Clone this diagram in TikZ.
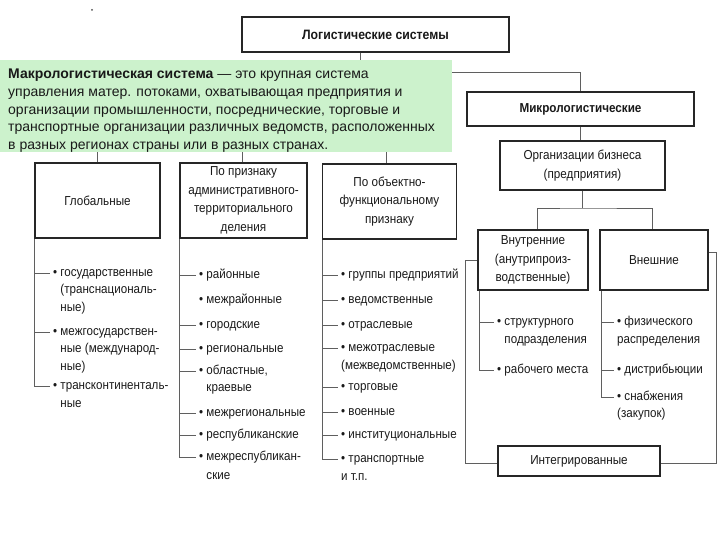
\documentclass[tikz,border=0pt]{standalone}
\usepackage{fontspec}
\setmainfont{Liberation Sans}
\newfontfamily\nar[FakeStretch=0.9]{Liberation Sans}
\definecolor{greenbg}{RGB}{204,242,204}
\definecolor{ln}{RGB}{95,95,95}
\definecolor{txt}{RGB}{25,25,25}
\begin{document}
\begin{tikzpicture}[x=1pt,y=-1pt,
 box/.style={draw=black!85, line width=1.3pt, fill=white, inner sep=0pt, align=center, text=txt, font=\nar\fontsize{13}{18.6}\selectfont},
 conn/.style={draw=ln, line width=0.8pt},
 it/.style={anchor=west, inner sep=0pt, text height=8.5pt, text depth=2.5pt, text=txt, font=\nar\fontsize{12.9}{15}\selectfont},
]
\useasboundingbox (0,0) rectangle (720,540);
\fill[black!70] (92,10) circle (1);

% boxes
\node[box, minimum width=267, minimum height=35] (logist) at (375.5,34.5) {\fontsize{13.6}{16}\selectfont\bfseries Логистические системы};
\node[box, minimum width=227, minimum height=34] (micro) at (580.5,109) {\bfseries Микрологистические};
\node[box, minimum width=165, minimum height=49] (org) at (582.5,165.5) {Организации бизнеса\\(предприятия)};
\node[box, minimum width=110, minimum height=60] (vnutr) at (533,260) {Внутренние\\(анутрипроиз-\\водственные)};
\node[box, minimum width=108, minimum height=60] (vnesh) at (654,260) {Внешние};
\node[box, minimum width=162, minimum height=30] (integr) at (579,461) {Интегрированные};
\node[box, minimum width=125, minimum height=75] (glob) at (97.5,200.5) {Глобальные};
\node[box, minimum width=127, minimum height=75] (admin) at (243.5,200.5) {По признаку\\административного-\\территориального\\деления};
\node[box, minimum width=134, minimum height=75] (obj) at (389.5,201.5) {По объектно-\\функциональному\\признаку};

% hierarchy connectors
\coordinate (lbranch) at (360,100);
\draw[conn] (logist.south -| lbranch) |- (micro.north |- 0,72) -- (micro.north);
\draw[conn] (logist.south -| lbranch) -- (lbranch);
\draw[conn] (glob.north) |- (lbranch) -| ([xshift=-3.5pt]obj.north);
\draw[conn] ([xshift=-1.5pt]admin.north) -- ([xshift=-1.5pt]admin.north |- lbranch);
\draw[conn] (micro.south) -- (micro.south |- org.north);
\coordinate (obr) at (582,208);
\draw[conn] (org.south -| obr) -- (obr);
\draw[conn] ([xshift=4pt]vnutr.north) |- (obr) -| ([xshift=-2pt]vnesh.north);
\draw[conn] (vnutr.west) -- ++(-12,0) |- ([yshift=-2pt]integr.west);
\draw[conn] ([yshift=8pt]vnesh.east) -- ++(8,0) |- ([yshift=-2pt]integr.east);

% global list
\node[it] (g1) at (53,273) {• государственные};
\node[it] (g1b) at (53,290.5) {\phantom{• }(транснациональ-};
\node[it] (g1c) at (53,308) {\phantom{• }ные)};
\node[it] (g2) at (53,332) {• межгосударствен-};
\node[it] (g2b) at (53,349.5) {\phantom{• }ные (международ-};
\node[it] (g2c) at (53,367) {\phantom{• }ные)};
\node[it] (g3) at (53,386) {• трансконтиненталь-};
\node[it] (g3b) at (53,404) {\phantom{• }ные};
\draw[conn] (glob.south west) |- ([xshift=-3pt]g3.west);
\foreach \n in {g1,g2} \draw[conn] (glob.south west |- \n.west) -- ([xshift=-3pt]\n.west);

% admin list
\node[it] (a1) at (199,275) {• районные};
\node[it] (a2) at (199,300) {• межрайонные};
\node[it] (a3) at (199,325) {• городские};
\node[it] (a4) at (199,349) {• региональные};
\node[it] (a5) at (199,371) {• областные,};
\node[it] (a5b) at (199,388.5) {\phantom{• }краевые};
\node[it] (a6) at (199,413) {• межрегиональные};
\node[it] (a7) at (199,435) {• республиканские};
\node[it] (a8) at (199,457) {• межреспубликан-};
\node[it] (a8b) at (199,476) {\phantom{• }ские};
\draw[conn] (admin.south west) |- ([xshift=-3pt]a8.west);
\foreach \n in {a1,a3,a4,a5,a6,a7} \draw[conn] (admin.south west |- \n.west) -- ([xshift=-3pt]\n.west);

% object list
\node[it] (o1) at (341,275) {• группы предприятий};
\node[it] (o2) at (341,300) {• ведомственные};
\node[it] (o3) at (341,325) {• отраслевые};
\node[it] (o4) at (341,348) {• межотраслевые};
\node[it] (o4b) at (341,366) {(межведомственные)};
\node[it] (o5) at (341,387) {• торговые};
\node[it] (o6) at (341,412) {• военные};
\node[it] (o7) at (341,435) {• институциональные};
\node[it] (o8) at (341,459) {• транспортные};
\node[it] (o8b) at (341,477.5) {и т.п.};
\draw[conn] ([xshift=0.5pt]obj.south west) |- ([xshift=-3pt]o8.west);
\foreach \n in {o1,o2,o3,o4,o5,o6,o7} \draw[conn] ([xshift=0.5pt]obj.south west |- \n.west) -- ([xshift=-3pt]\n.west);

% internal list
\node[it] (v1) at (497,322) {• структурного};
\node[it] (v1b) at (497,340) {\phantom{• }подразделения};
\node[it] (v2) at (497,370) {• рабочего места};
\draw[conn] ([xshift=2pt]vnutr.south west) |- ([xshift=-3pt]v2.west);
\draw[conn] ([xshift=2pt]vnutr.south west |- v1.west) -- ([xshift=-3pt]v1.west);

% external list
\node[it] (e1) at (617,322) {• физического};
\node[it] (e1b) at (617,340) {распределения};
\node[it] (e2) at (617,370) {• дистрибьюции};
\node[it] (e3) at (617,397) {• снабжения};
\node[it] (e3b) at (617,414.5) {(закупок)};
\draw[conn] ([xshift=2pt]vnesh.south west) |- ([xshift=-3pt]e3.west);
\foreach \n in {e1,e2} \draw[conn] ([xshift=2pt]vnesh.south west |- \n.west) -- ([xshift=-3pt]\n.west);

% green definition box
\node[fill=greenbg, minimum width=452, minimum height=92, anchor=north west, inner sep=0pt] (green) at (0,60) {};
\node[anchor=north west, inner sep=0pt, align=left, text=txt, font=\fontsize{14}{17.6}\selectfont] (gtext) at (8,69) {\textbf{Макрологистическая система} — это крупная система\\управления матер. потоками, охватывающая предприятия и\\организации промышленности, посреднические, торговые и\\транспортные организации различных ведомств, расположенных\\в разных регионах страны или в разных странах.};
\end{tikzpicture}
\end{document}
